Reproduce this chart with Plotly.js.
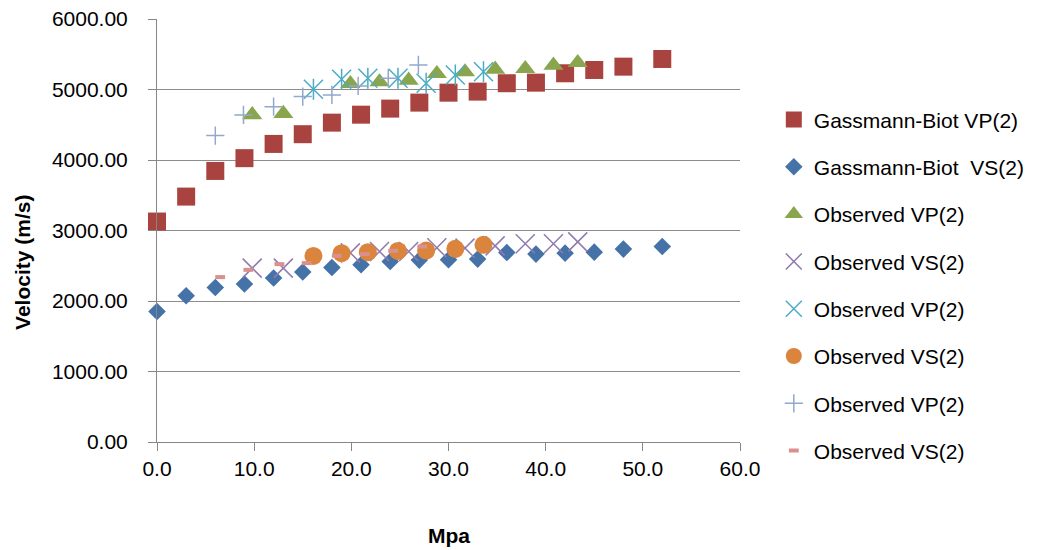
<!DOCTYPE html>
<html>
<head>
<meta charset="utf-8">
<script src="https://cdn.plot.ly/plotly-3.0.1.min.js"></script>
<style>html,body{margin:0;padding:0;background:#fff}#chart{width:1044px;height:550px}</style>
</head>
<body>
<div id="chart"></div>
<script>
// Gassmann-Biot model (x in MPa)
var gbX = [0, 3, 6, 9, 12, 15, 18, 21, 24, 27, 30, 33, 36, 39, 42, 45, 48, 52];
var gbVP = [3127, 3481, 3845, 4026, 4228, 4366, 4530, 4643, 4729, 4814, 4955, 4970, 5089, 5097, 5230, 5277, 5324, 5433];
var gbVS = [1851, 2074, 2191, 2240, 2325, 2410, 2475, 2513, 2560, 2580, 2584, 2594, 2687, 2665, 2679, 2693, 2736, 2772];

// Observed set 1 (triangle / x)
var obs1X = [9.8, 13.0, 19.9, 22.9, 25.9, 28.8, 31.7, 34.8, 37.9, 40.8, 43.3];
var obs1VP = [4641, 4658, 5083, 5107, 5131, 5225, 5249, 5287, 5296, 5344, 5381];
var obs1VS = [2466, 2466, 2683, 2702, 2702, 2754, 2750, 2782, 2811, 2811, 2839];

// Observed set 2 (asterisk / circle)
var obs2X = [16.1, 19.0, 21.7, 24.8, 27.7, 30.7, 33.6];
var obs2VP = [5003, 5145, 5160, 5160, 5089, 5206, 5253];
var obs2VS = [2640, 2679, 2693, 2710, 2715, 2740, 2797];

// Observed set 3 (plus / dash)
var obs3X = [6.0, 8.9, 12.0, 15.0, 18.0, 20.7, 23.8, 26.9];
var obs3VP = [4346, 4639, 4757, 4899, 4923, 5050, 5160, 5348];
var obs3VSX = [6.5, 9.4, 12.6, 15.4, 18.5, 21.4, 24.3, 27.3];
var obs3VS = [2339, 2442, 2523, 2537, 2641, 2665, 2712, 2772];

var names = ['Gassmann-Biot VP(2)', 'Gassmann-Biot\u00a0 VS(2)', 'Observed VP(2)', 'Observed VS(2)',
             'Observed VP(2)', 'Observed VS(2)', 'Observed VP(2)', 'Observed VS(2)'];

var FONT = 'Liberation Sans, Arial, sans-serif';

function tr(x, y, i, marker, extra) {
  var t = {x: x, y: y, type: 'scatter', mode: 'markers', name: names[i],
           legendgroup: 'g' + i, marker: marker, cliponaxis: false, hoverinfo: 'x+y'};
  if (extra) for (var k in extra) t[k] = extra[k];
  return t;
}

var data = [
  tr(gbX, gbVP, 0, {symbol: 'square', size: 18, color: '#A9433F'}),
  tr(gbX, gbVS, 1, {symbol: 'diamond', size: 13.5, color: '#4572A7'}),
  tr(obs1X, obs1VP, 2, {symbol: 'triangle-up', size: 17.5, color: '#89A54E'}),
  tr(obs1X, obs1VS, 3, {symbol: 'x-thin-open', size: 19, color: '#8F7BAE', line: {color: '#8F7BAE', width: 1.5}}),
  tr(obs2X, obs2VP, 4, {symbol: 'x-thin-open', size: 19, color: '#4BACC6', line: {color: '#4BACC6', width: 1.5}}),
  tr(obs2X, obs2VP, 4, {symbol: 'line-ns-open', size: 15, color: '#4BACC6', line: {color: '#4BACC6', width: 1.5}}, {showlegend: false}),
  tr(obs2X, obs2VS, 5, {symbol: 'circle', size: 18, color: '#DB843D'}),
  tr(obs3X, obs3VP, 6, {symbol: 'cross-thin-open', size: 13, color: '#92A8CD', line: {color: '#92A8CD', width: 1.5}}),
  tr(obs3VSX, obs3VS, 7, {symbol: 'line-ew-open', size: 7, color: '#D9908E', line: {color: '#D9908E', width: 4}})
];

var layout = {
  width: 1044, height: 550,
  margin: {l: 157, r: 304, t: 19, b: 108},
  paper_bgcolor: '#ffffff', plot_bgcolor: '#ffffff',
  font: {family: FONT, size: 21, color: '#000000'},
  showlegend: true,
  legend: {x: 1.058, xanchor: 'left', y: 0.81, yanchor: 'top', traceorder: 'grouped',
           tracegroupgap: 17, font: {family: FONT, size: 21, color: '#000000'}, bgcolor: 'rgba(0,0,0,0)'},
  xaxis: {range: [0, 60], dtick: 10, tick0: 0, tickformat: '.1f', showgrid: false, zeroline: false,
          showline: true, linecolor: '#868686', linewidth: 1, ticks: 'outside', ticklen: 8, tickcolor: '#868686',
          ticklabelstandoff: 0, tickfont: {family: FONT, size: 21, color: '#000000'}, fixedrange: true},
  yaxis: {range: [0, 6000], dtick: 1000, tick0: 0, tickformat: '.2f', showgrid: true, gridcolor: '#8C8C8C', gridwidth: 1,
          zeroline: false, showline: true, linecolor: '#868686', linewidth: 1, ticks: 'outside', ticklen: 8,
          tickcolor: '#868686', ticklabelstandoff: 16, tickfont: {family: FONT, size: 21, color: '#000000'}, fixedrange: true},
  annotations: [
    {text: '<b>Velocity (m/s)</b>', xref: 'paper', yref: 'paper', x: -0.232, y: 0.425, textangle: -90,
     showarrow: false, xanchor: 'center', yanchor: 'middle', font: {family: FONT, size: 21, color: '#000000'}},
    {text: '<b>Mpa</b>', xref: 'paper', yref: 'paper', x: 0.5, y: -0.22, showarrow: false,
     xanchor: 'center', yanchor: 'middle', font: {family: FONT, size: 21, color: '#000000'}}
  ]
};

Plotly.newPlot('chart', data, layout, {displayModeBar: false, staticPlot: true});
</script>
</body>
</html>
